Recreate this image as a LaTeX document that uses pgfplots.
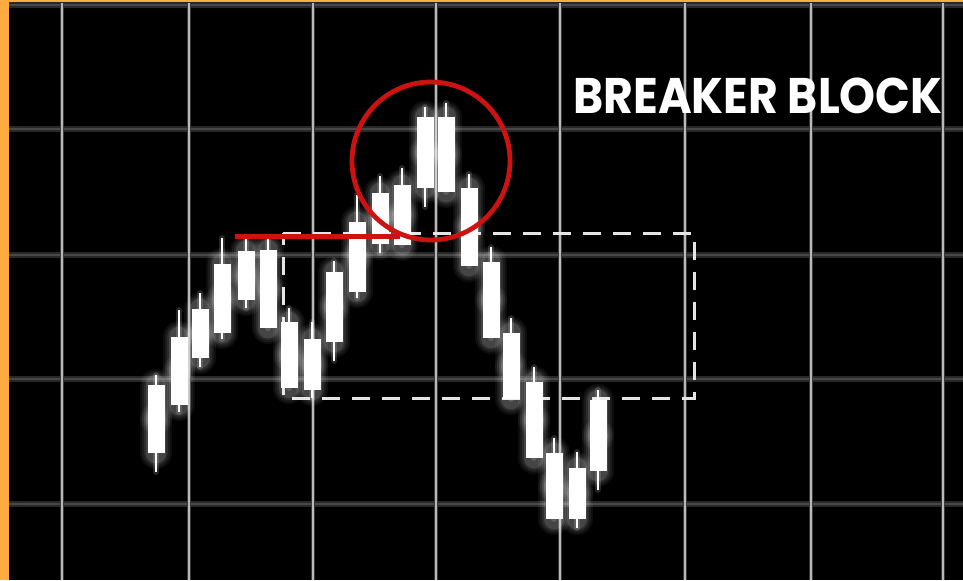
\documentclass[border=0pt]{standalone}
\usepackage{pgfplots}
\pgfplotsset{compat=1.18}
\usepackage{pgfplotstable}
\usepackage{fontspec}
\newfontfamily\titlefont{Poppins}
\definecolor{frameorange}{RGB}{255,171,64}
\definecolor{circred}{RGB}{205,18,18}
\definecolor{vgrid}{RGB}{185,185,185}
\definecolor{hgrid}{RGB}{72,72,72}

% candles: centre x, wick top, body top, body bottom, wick bottom (picture units, y downward)
\pgfplotstableread{
x wt bt bb wb
156 375 385 453 472
179 310 337 405 412
200 293 309 358 367
222 238 264 333 339
246 238 251 300 308
268 238 250 328 328
289 308 322 388 388
312 322 339 390 398
334 261 272 342 361
357 195 222 292 298
380 176 193 244 253
402 168 185 245 245
425 107 117 188 207
446 103 117 192 192
469 174 188 266 266
491 247 262 338 338
511 318 333 399 399
534 367 382 458 458
554 438 453 519 519
577 452 468 519 528
598 390 400 471 490
}\candles

\pgfplotsset{
  body/.style={draw=none, mark=none, forget plot, error bars/.cd, y dir=both, y explicit, error mark=none,
    error bar style={draw=white, #1}},
}
\newcommand\bodies[1]{\addplot[body={#1}]
  table[x=x, y expr={(\thisrow{bt}+\thisrow{bb})/2}, y error expr={(\thisrow{bb}-\thisrow{bt})/2}] {\candles};}
\newcommand\wicks[1]{\addplot[body={#1}]
  table[x=x, y expr={(\thisrow{wt}+\thisrow{wb})/2}, y error expr={(\thisrow{wb}-\thisrow{wt})/2}] {\candles};}

\begin{document}
\begin{tikzpicture}
\begin{axis}[scale only axis, width=481.5pt, height=290pt,
  xmin=0, xmax=963, ymin=0, ymax=580, y dir=reverse,
  hide axis, clip=true]
\fill[frameorange] (axis cs:0,0) rectangle (axis cs:963,580);
\fill[black] (axis cs:9,3) rectangle (axis cs:963,580);
\pgfplotsinvokeforeach{5,129,255,379,504}{
  \draw[hgrid!55!black, line width=2.6pt] (axis cs:9,#1) -- (axis cs:963,#1);
  \draw[hgrid, line width=1.0pt] (axis cs:9,#1) -- (axis cs:963,#1);
}
\pgfplotsinvokeforeach{62,189,313,436,560,685,811,943}{
  \draw[vgrid!30!black, line width=2.0pt] (axis cs:#1,3) -- (axis cs:#1,580);
  \draw[vgrid, line width=0.75pt] (axis cs:#1,3) -- (axis cs:#1,580);
}
% dashed breaker block
\addplot[white!90!black, line width=1.5pt, dash pattern=on 9pt off 6pt, forget plot]
  coordinates {(283,233) (694,233) (694,398) (283,398) (283,233)};
% glow
\bodies{opacity=0.05, line width=16pt, line cap=round}
\bodies{opacity=0.06, line width=14pt, line cap=round}
\bodies{opacity=0.08, line width=12pt, line cap=round}
\bodies{opacity=0.12, line width=10.3pt, line cap=round}
\wicks{opacity=0.15, line width=3pt, line cap=round}
% wicks and bodies
\wicks{line width=0.9pt}
\bodies{line width=8.5pt}
% red level and circle
\addplot[circred, line width=2.5pt, forget plot] coordinates {(235,236) (400,236)};
\draw[circred, line width=2.4pt] (axis cs:431,161) circle[radius=39.5pt];
\node[anchor=base east, text=white, inner sep=0pt]
  at (axis cs:943,113) {\scalebox{0.915}[1]{\titlefont\bfseries\fontsize{25}{25}\selectfont BREAKER BLOCK}};
\end{axis}
\end{tikzpicture}
\end{document}
